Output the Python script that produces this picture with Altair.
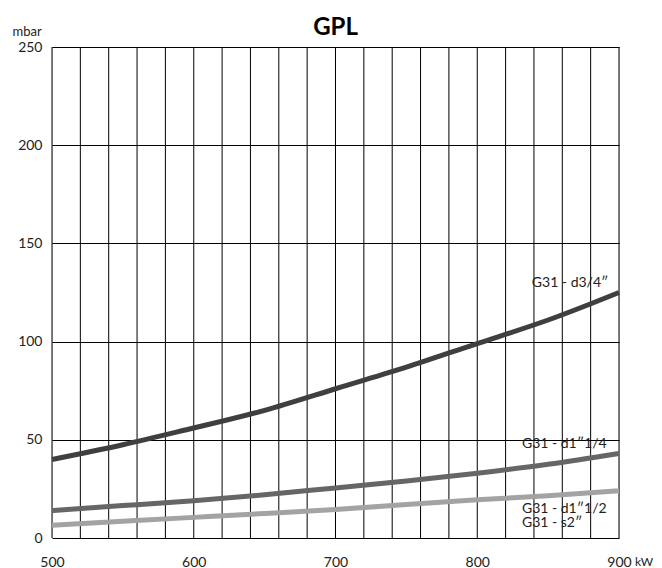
import altair as alt
import pandas as pd

# Data
kw = [500, 550, 600, 650, 700, 750, 800, 850, 900]
d34 = [40, 47.5, 56, 65, 76, 87, 99, 111, 125]
d114 = [14, 16.5, 19, 22, 25.5, 29, 33, 37.5, 43]
d112 = [6.5, 8.5, 10.5, 12.5, 14.5, 17, 19.5, 21.5, 24]

series_names = ["G31 - d3/4″", "G31 - d1″1/4", "G31 - d1″1/2"]
series_colors = ["#3f3f3f", "#666666", "#a3a3a3"]

label_text = ["G31 - d3/4″", "G31 - d1″1/4", "G31 - d1″1/2", "G31 - s2″"]
label_kw = [838.5, 831.5, 831.5, 831.5]
label_mbar = [130, 48, 14.8, 7.6]

x_grid = list(range(500, 901, 20))
x_ticks = [500, 600, 700, 800, 900]
y_ticks = [0, 50, 100, 150, 200, 250]

rows = []
for name, vals in zip(series_names, [d34, d114, d112]):
    for k, v in zip(kw, vals):
        rows.append({"kW": k, "mbar": v, "serie": name})
df = pd.DataFrame(rows)
labels = pd.DataFrame({"kW": label_kw, "mbar": label_mbar, "t": label_text})

FONT = "Lato"
TXT = "#222222"

xs = alt.Scale(domain=[500, 900], nice=False, zero=False)
ys = alt.Scale(domain=[0, 250], nice=False)

xaxis = alt.Axis(values=x_ticks, grid=False, ticks=False, domain=False,
                 labelFont=FONT, labelFontSize=14, labelColor=TXT, labelPadding=17,
                 format="d", title=None, labelFlush=False, labelOverlap=False)
yaxis = alt.Axis(values=y_ticks, grid=True, gridColor="#000000", gridWidth=1, gridOpacity=1,
                 ticks=False, domain=False, labelFont=FONT, labelFontSize=14, labelColor=TXT,
                 labelPadding=10, labelOverlap=False, title="mbar", titleAngle=0, titleX=-40, titleY=-12,
                 titleAlign="left", titleBaseline="alphabetic", titleFont=FONT,
                 titleFontSize=13, titleFontWeight="normal", titleColor=TXT)

vgrid = alt.Chart(pd.DataFrame({"kW": x_grid})).mark_rule(color="#000000", strokeWidth=1).encode(
    x=alt.X("kW:Q", scale=xs, axis=xaxis),
)

lines = alt.Chart(df).mark_line(strokeWidth=5, interpolate="natural", strokeCap="butt").encode(
    x=alt.X("kW:Q", scale=xs, axis=xaxis),
    y=alt.Y("mbar:Q", scale=ys, axis=yaxis),
    color=alt.Color("serie:N", scale=alt.Scale(domain=series_names, range=series_colors), legend=None),
)

texts = alt.Chart(labels).mark_text(align="left", baseline="middle", font=FONT, fontSize=14,
                                     color=TXT).encode(
    x=alt.X("kW:Q", scale=xs),
    y=alt.Y("mbar:Q", scale=ys),
    text="t:N",
)

kw_unit = alt.Chart(pd.DataFrame({"kW": [900], "mbar": [0], "t": ["kW"]})).mark_text(
    align="left", baseline="top", font=FONT, fontSize=12, color=TXT, dx=16, dy=19
).encode(x=alt.X("kW:Q", scale=xs), y=alt.Y("mbar:Q", scale=ys), text="t:N")

title = alt.Chart(pd.DataFrame({"kW": [700], "mbar": [250], "t": ["GPL"]})).mark_text(
    align="center", baseline="alphabetic", font=FONT, fontSize=24, fontWeight="bold",
    color="#000000", dy=-12
).encode(x=alt.X("kW:Q", scale=xs), y=alt.Y("mbar:Q", scale=ys), text="t:N")

chart = alt.layer(vgrid, lines, texts, kw_unit, title).properties(
    width=567, height=491,
    autosize=alt.AutoSizeParams(type="none"),
    padding={"left": 44, "top": 39, "right": 34, "bottom": 30},
).configure_view(stroke="#000000", strokeWidth=1.5, clip=False).configure(background="white")

chart.save("out.html", embed_options={"renderer": "svg", "actions": False})
